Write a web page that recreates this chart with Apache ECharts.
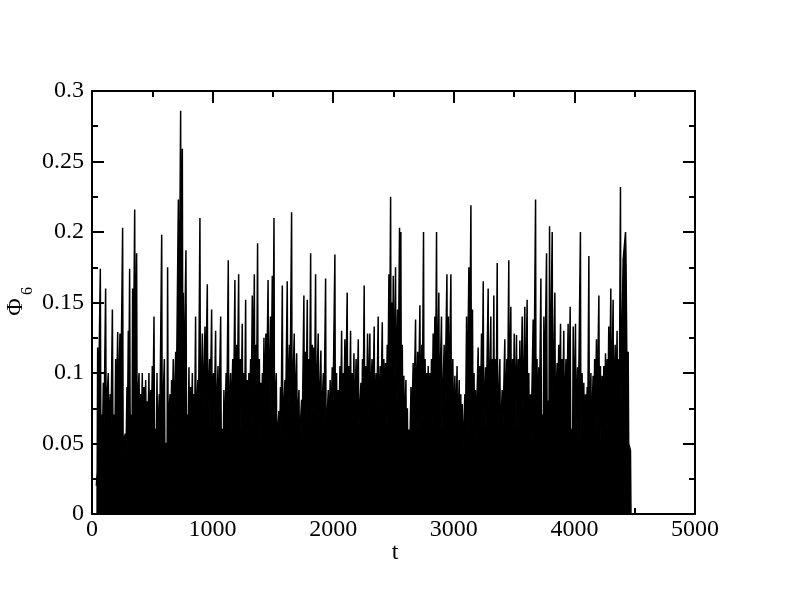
<!DOCTYPE html>
<html>
<head>
<meta charset="utf-8">
<script src="https://cdn.jsdelivr.net/npm/echarts@6/dist/echarts.min.js"></script>
<style>html,body{margin:0;padding:0;background:#fff}#c{width:792px;height:605px}</style>
</head>
<body>
<div id="c"></div>
<script>
// Time of each spike (t), its height, and the level of the dense band after it
const tPeak = [47,69,94,113,135,152,169,196,213,232,254,276,290,301,312,337,354,370,390,404,417,431,445,458,472,487,500,514,539,558,578,600,627,647,660,674,694,716,735,749,757,779,804,818,832,846,859,878,895,915,937,956,975,992,1008,1025,1045,1067,1094,1112,1130,1149,1167,1185,1200,1216,1231,1246,1260,1274,1288,1301,1315,1329,1346,1360,1373,1388,1401,1413,1426,1442,1460,1480,1495,1509,1528,1550,1563,1578,1600,1619,1637,1655,1677,1697,1716,1738,1757,1770,1785,1799,1813,1827,1840,1854,1876,1898,1918,1937,1959,1975,1992,2014,2028,2042,2056,2070,2083,2097,2116,2130,2144,2158,2172,2190,2208,2230,2243,2257,2271,2285,2304,2322,2340,2356,2373,2390,2407,2420,2434,2448,2462,2476,2488,2498,2517,2534,2550,2561,2573,2586,2603,2615,2628,2645,2663,2683,2700,2719,2735,2749,2762,2774,2788,2802,2815,2829,2843,2857,2876,2898,2920,2943,2955,2976,2992,3009,3027,3045,3058,3070,3092,3106,3125,3142,3155,3168,3180,3202,3216,3230,3244,3263,3285,3307,3320,3332,3346,3360,3382,3401,3423,3440,3456,3473,3488,3501,3520,3535,3548,3567,3589,3608,3622,3636,3658,3678,3690,3705,3722,3747,3769,3794,3816,3838,3857,3870,3885,3898,3912,3930,3948,3965,3990,4009,4026,4050,4064,4078,4092,4106,4120,4137,4155,4168,4183,4203,4216,4230,4244,4258,4272,4285,4302,4321,4338,4354,4368,4382,4404,4424,4435,4446,4465];
const vPeak = [0.118,0.174,0.093,0.160,0.100,0.085,0.145,0.110,0.129,0.128,0.203,0.057,0.090,0.130,0.174,0.160,0.216,0.185,0.100,0.085,0.100,0.090,0.095,0.080,0.100,0.088,0.105,0.140,0.100,0.085,0.198,0.110,0.175,0.085,0.095,0.110,0.115,0.223,0.286,0.259,0.157,0.187,0.104,0.090,0.100,0.085,0.140,0.095,0.210,0.128,0.133,0.163,0.110,0.145,0.100,0.130,0.105,0.140,0.088,0.100,0.180,0.100,0.110,0.166,0.120,0.170,0.110,0.135,0.100,0.152,0.095,0.100,0.110,0.155,0.170,0.120,0.192,0.110,0.093,0.100,0.125,0.128,0.166,0.140,0.169,0.210,0.100,0.073,0.090,0.162,0.095,0.165,0.120,0.214,0.128,0.114,0.088,0.081,0.155,0.115,0.152,0.110,0.185,0.120,0.118,0.170,0.128,0.116,0.100,0.167,0.088,0.095,0.104,0.184,0.100,0.088,0.105,0.130,0.100,0.124,0.157,0.105,0.130,0.100,0.114,0.110,0.124,0.093,0.110,0.162,0.105,0.128,0.128,0.110,0.133,0.100,0.140,0.105,0.136,0.110,0.107,0.120,0.170,0.225,0.150,0.169,0.175,0.145,0.203,0.200,0.120,0.098,0.095,0.075,0.060,0.090,0.107,0.138,0.115,0.148,0.120,0.200,0.110,0.100,0.105,0.100,0.110,0.128,0.140,0.200,0.157,0.140,0.120,0.170,0.140,0.170,0.110,0.098,0.105,0.095,0.085,0.078,0.085,0.140,0.175,0.219,0.145,0.100,0.088,0.118,0.105,0.128,0.165,0.104,0.160,0.140,0.110,0.155,0.110,0.178,0.110,0.088,0.124,0.110,0.180,0.147,0.110,0.128,0.127,0.110,0.123,0.140,0.147,0.152,0.100,0.085,0.138,0.223,0.110,0.104,0.167,0.140,0.185,0.204,0.200,0.157,0.107,0.120,0.135,0.110,0.130,0.110,0.135,0.147,0.133,0.135,0.104,0.200,0.100,0.093,0.085,0.090,0.183,0.100,0.098,0.110,0.124,0.155,0.105,0.098,0.105,0.114,0.110,0.133,0.160,0.152,0.120,0.130,0.110,0.232,0.180,0.200,0.180,0.115,0.045];
const vBase = [0.06,0.07,0.05,0.07,0.06,0.05,0.07,0.06,0.07,0.06,0.05,0.03,0.06,0.08,0.07,0.08,0.09,0.07,0.06,0.05,0.06,0.05,0.06,0.05,0.06,0.05,0.06,0.06,0.05,0.06,0.06,0.05,0.06,0.05,0.06,0.06,0.07,0.09,0.10,0.09,0.08,0.07,0.06,0.05,0.06,0.05,0.06,0.05,0.06,0.07,0.07,0.07,0.06,0.07,0.06,0.06,0.05,0.06,0.04,0.05,0.06,0.06,0.05,0.07,0.07,0.07,0.06,0.06,0.05,0.06,0.05,0.05,0.06,0.07,0.07,0.07,0.07,0.05,0.05,0.06,0.06,0.07,0.07,0.07,0.07,0.07,0.05,0.04,0.05,0.06,0.06,0.07,0.07,0.07,0.07,0.06,0.05,0.05,0.06,0.06,0.07,0.06,0.07,0.06,0.07,0.07,0.06,0.06,0.05,0.05,0.05,0.05,0.06,0.06,0.05,0.05,0.06,0.06,0.06,0.06,0.06,0.06,0.06,0.06,0.06,0.06,0.06,0.05,0.06,0.06,0.06,0.07,0.07,0.06,0.06,0.06,0.06,0.06,0.07,0.06,0.06,0.07,0.08,0.08,0.08,0.08,0.08,0.08,0.08,0.07,0.06,0.05,0.04,0.04,0.03,0.05,0.06,0.06,0.06,0.07,0.07,0.06,0.06,0.06,0.06,0.06,0.06,0.07,0.07,0.07,0.07,0.06,0.06,0.07,0.07,0.06,0.06,0.05,0.05,0.05,0.05,0.04,0.05,0.06,0.07,0.07,0.06,0.05,0.05,0.06,0.06,0.06,0.06,0.06,0.06,0.06,0.06,0.06,0.06,0.06,0.05,0.05,0.06,0.06,0.06,0.06,0.06,0.06,0.06,0.06,0.06,0.06,0.06,0.06,0.05,0.05,0.06,0.06,0.06,0.06,0.07,0.07,0.08,0.08,0.07,0.07,0.06,0.06,0.06,0.06,0.06,0.06,0.06,0.06,0.06,0.06,0.05,0.05,0.05,0.05,0.05,0.05,0.05,0.05,0.05,0.06,0.06,0.06,0.05,0.05,0.05,0.06,0.06,0.06,0.06,0.06,0.06,0.06,0.07,0.08,0.18,0.18,0.07,0.05,0.0];
const xTicks = [0, 1000, 2000, 3000, 4000, 5000];
const yTicks = [0, 0.05, 0.1, 0.15, 0.2, 0.25, 0.3];

const data = [[36, 0.02]];
for (let i = 0; i < tPeak.length; i++) {
  data.push([tPeak[i] - 4, i ? vBase[i - 1] : 0.03]);
  data.push([tPeak[i], vPeak[i]]);
  data.push([tPeak[i] + 4, vBase[i]]);
}

const FONT = 'Liberation Serif';
const black = '#000';
function axisBase(showLabel) {
  return {
    type: 'value',
    axisLine: { show: true, onZero: false, lineStyle: { color: black, width: 2 } },
    axisTick: { show: true, inside: true, length: 12, lineStyle: { color: black, width: 2 } },
    minorTick: { show: true, splitNumber: 2, length: 6, lineStyle: { color: black, width: 2 } },
    splitLine: { show: false },
    minorSplitLine: { show: false },
    axisLabel: { show: showLabel, color: black, fontFamily: FONT, fontSize: 24 }
  };
}
const xb = Object.assign(axisBase(true), { min: xTicks[0], max: xTicks[xTicks.length - 1], interval: 1000, position: 'bottom' });
xb.axisLabel.margin = 4;
xb.axisLabel.formatter = v => String(v);
const xt = Object.assign(axisBase(false), { min: xTicks[0], max: xTicks[xTicks.length - 1], interval: 1000, position: 'top' });
const yl = Object.assign(axisBase(true), { min: yTicks[0], max: yTicks[yTicks.length - 1], interval: 0.05, position: 'left' });
yl.axisLabel.margin = 8;
yl.axisLabel.formatter = v => String(+v.toFixed(2));
const yr = Object.assign(axisBase(false), { min: yTicks[0], max: yTicks[yTicks.length - 1], interval: 0.05, position: 'right' });

const chart = echarts.init(document.getElementById('c'), null, { renderer: 'canvas' });
chart.setOption({
  animation: false,
  backgroundColor: '#fff',
  grid: { left: 92, right: 97, top: 91, bottom: 91, containLabel: false },
  xAxis: [xb, xt],
  yAxis: [yl, yr],
  series: [{
    type: 'line',
    xAxisIndex: 0,
    yAxisIndex: 0,
    data: data,
    symbol: 'none',
    showSymbol: false,
    sampling: null,
    lineStyle: { color: black, width: 1.5 },
    areaStyle: { color: black, opacity: 1 },
    z: 1
  }],
  graphic: [
    { type: 'text', x: 395, y: 553, style: { text: 't', font: '24px "Liberation Serif"', fill: black, textAlign: 'center', textVerticalAlign: 'middle' } },
    { type: 'text', x: 16, y: 307, rotation: Math.PI / 2, style: { text: 'Φ', font: '24px "Liberation Serif"', fill: black, textAlign: 'center', textVerticalAlign: 'middle' } },
    { type: 'text', x: 28, y: 291, rotation: Math.PI / 2, style: { text: '6', font: '16px "Liberation Serif"', fill: black, textAlign: 'center', textVerticalAlign: 'middle' } }
  ]
});
</script>
</body>
</html>
